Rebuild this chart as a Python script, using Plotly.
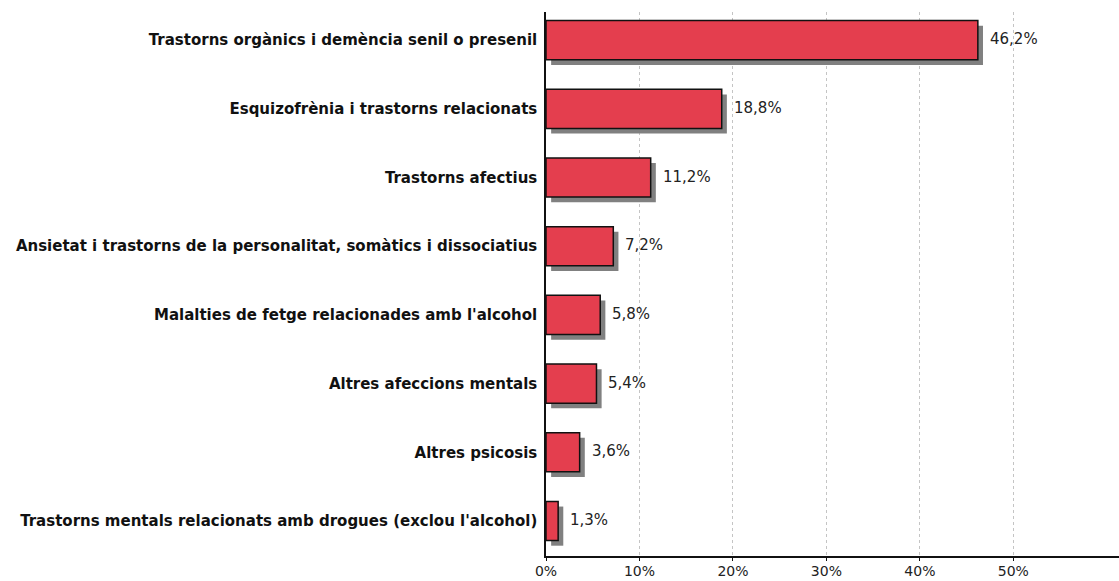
import plotly.graph_objects as go

categories = [
    "Trastorns orgànics i demència senil o presenil",
    "Esquizofrènia i trastorns relacionats",
    "Trastorns afectius",
    "Ansietat i trastorns de la personalitat, somàtics i dissociatius",
    "Malalties de fetge relacionades amb l'alcohol",
    "Altres afeccions mentals",
    "Altres psicosis",
    "Trastorns mentals relacionats amb drogues (exclou l'alcohol)",
]
values = [46.2, 18.8, 11.2, 7.2, 5.8, 5.4, 3.6, 1.3]
tick_vals = [0, 10, 20, 30, 40, 50]
tick_text = ["0%", "10%", "20%", "30%", "40%", "50%"]

X_MAX = 61.3
BAR_W = 0.57
SHADOW_DX = 0.55   # in % units (about 5 px)
SHADOW_DY = 0.075  # in category units (about 5 px)
FONT = "DejaVu Sans, Verdana, sans-serif"

fig = go.Figure()

# drop shadow behind each bar
fig.add_trace(go.Bar(
    y=categories, x=values, base=SHADOW_DX, orientation="h",
    width=BAR_W, offset=-BAR_W / 2 + SHADOW_DY,
    marker=dict(color="#808080", line=dict(width=0)),
    hoverinfo="skip", showlegend=False,
))

# main bars
fig.add_trace(go.Bar(
    y=categories, x=values, orientation="h",
    width=BAR_W, offset=-BAR_W / 2,
    marker=dict(color="#E43E4E", line=dict(color="#111111", width=1.5)),
    showlegend=False,
))

for c, v in zip(categories, values):
    fig.add_annotation(
        x=v, y=c, xref="x", yref="y",
        text=f"{v:.1f}%".replace(".", ","),
        showarrow=False, xanchor="left", xshift=10, yshift=1,
        font=dict(family=FONT, size=15, color="#222222"),
    )

fig.update_layout(
    width=1119, height=581,
    margin=dict(l=546, r=0, t=12, b=25),
    barmode="overlay",
    plot_bgcolor="white", paper_bgcolor="white",
    xaxis=dict(
        range=[0, X_MAX], tickvals=tick_vals, ticktext=tick_text,
        showgrid=True, gridcolor="#c4c4c4", griddash="3px,3px", gridwidth=1,
        showline=True, linecolor="#111111", linewidth=1.5,
        ticks="outside", ticklen=3, tickcolor="#111111",
        ticklabelstandoff=-2,
        tickfont=dict(family=FONT, size=14, color="#222222"),
        zeroline=False, fixedrange=True, automargin=False,
    ),
    yaxis=dict(
        range=[7.51, -0.41],
        showline=True, linecolor="#111111", linewidth=1.5,
        ticks="", ticklabelstandoff=4,
        tickfont=dict(family=FONT, size=15, color="#111111", weight="bold"),
        fixedrange=True, automargin=False,
    ),
)

fig.write_html("out.html")
